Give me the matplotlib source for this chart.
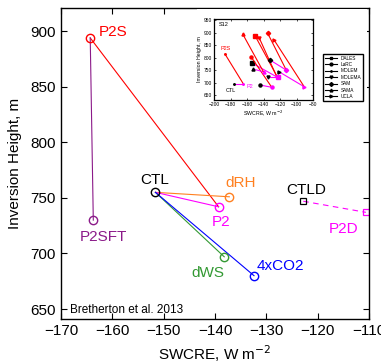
import numpy as np
import matplotlib
matplotlib.use('Agg')
import matplotlib.pyplot as plt
from matplotlib.patches import Rectangle

plt.rcParams['font.family'] = ['Liberation Sans', 'DejaVu Sans']

# SCM experiments (Bretherton et al. 2013)
exp_names = ['CTL', 'P2', 'P2S', 'P2SFT', 'dRH', 'dWS', '4xCO2']
exp_swcre = [-151.6, -139.3, -164.3, -163.7, -137.2, -138.2, -132.4]
exp_zi = [755, 742, 894, 730, 751, 697, 680]
exp_colors = ['black', '#ff00ff', '#ff0000', '#8b1a89', '#ff8020', '#339933', '#0000ff']
label_x = [-151.7, -138.8, -159.8, -161.8, -135.1, -141.3, -127.3]
label_y = [766, 728, 899, 715, 763, 682, 689]

# connecting lines: (start, end, colour taken from experiment)
links = [('P2S', 'P2', 'P2S'), ('P2S', 'P2SFT', 'P2SFT'), ('CTL', 'dRH', 'dRH'),
         ('CTL', 'P2', 'P2'), ('CTL', 'dWS', 'dWS'), ('CTL', '4xCO2', '4xCO2')]

# deeper-inversion pair
d_names = ['CTLD', 'P2D']
d_swcre = [-122.8, -110.6]
d_zi = [747, 737]
d_label_x = [-122.2, -115.0]
d_label_y = [757, 722]

# inset: CGILS S12 LES models
les_models = ['DALES', 'LaRC', 'MOLEM', 'MOLEMA', 'SAM', 'SAMA', 'UCLA']
les_markers = ['s', 'o', '.', 'v', 'D', '^', '>']
les_ctl_x = [-154.2, -144.0, -175.3, -135.1, -131.9, -152.2, -121.0]
les_ctl_y = [779, 690, 694, 723, 790, 754, 743]
les_p2_x = [-123.0, -130.0, -164.3, -123.8, -112.4, -140.0, -90.6]
les_p2_y = [721, 681, 694, 723, 750, 743, 683]
les_p2s_x = [-150.1, -155.0, -186.6, -144.9, -135.1, -165.1, -127.0]
les_p2s_y = [887, 803, 814, 877, 899, 894, 870]

fig = plt.figure(figsize=(3.81, 3.63), dpi=100)
ax = fig.add_axes([0.160, 0.1212, 0.8085, 0.857])

idx = {n: i for i, n in enumerate(exp_names)}
for a, b, c in links:
    ia, ib = idx[a], idx[b]
    ax.plot([exp_swcre[ia], exp_swcre[ib]], [exp_zi[ia], exp_zi[ib]],
            color=exp_colors[idx[c]], lw=0.8, zorder=2)

for i, n in enumerate(exp_names):
    ax.plot(exp_swcre[i], exp_zi[i], 'o', mfc='none', mec=exp_colors[i],
            ms=6, mew=1.0, zorder=3)
    ax.text(label_x[i], label_y[i], n, color=exp_colors[i], fontsize=11,
            ha='center', va='center')

ax.plot(d_swcre, d_zi, '--', color='#ff00ff', lw=0.8, dashes=(5, 4))
ax.plot(d_swcre[0], d_zi[0], 's', mfc='none', mec='black', ms=5, mew=0.9)
ax.plot(d_swcre[1], d_zi[1], 's', mfc='none', mec='#ff00ff', ms=5, mew=0.9)
ax.text(d_label_x[0], d_label_y[0], d_names[0], color='black', fontsize=11,
        ha='center', va='center')
ax.text(d_label_x[1], d_label_y[1], d_names[1], color='#ff00ff', fontsize=11,
        ha='center', va='center')

ax.text(-168.3, 649, 'Bretherton et al. 2013', fontsize=8.5, ha='left', va='center')

ax.set_xlim(-170, -110)
ax.set_ylim(641, 921)
ax.set_xticks(np.arange(-170, -109, 10))
ax.set_yticks(np.arange(650, 901, 50))
ax.set_xticklabels([f'\u2212{abs(v)}' for v in range(-170, -109, 10)])
ax.tick_params(direction='in', top=True, right=True, labelsize=11, length=4, width=0.8)
ax.set_xlabel('SWCRE, W m$^{-2}$', fontsize=11)
ax.set_ylabel('Inversion Height, m', fontsize=11, labelpad=6)
for s in ax.spines.values():
    s.set_linewidth(1.0)

# white patch behind the inset (pasted figure)
fig.patches.append(Rectangle((197 / 381, 1 - 126 / 363), 170 / 381, 117 / 363,
                             transform=fig.transFigure, facecolor='white',
                             edgecolor='none', zorder=1))

ins = fig.add_axes([214 / 381, 1 - 100 / 363, 99 / 381, 81 / 363], zorder=2)
for i, m in enumerate(les_models):
    ins.plot([les_ctl_x[i], les_p2_x[i]], [les_ctl_y[i], les_p2_y[i]],
             color='#ff00ff', lw=0.8)
    ins.plot([les_p2s_x[i], les_p2_x[i]], [les_p2s_y[i], les_p2_y[i]],
             color='#ff0000', lw=0.8)
    ins.plot(les_ctl_x[i], les_ctl_y[i], les_markers[i], color='black', ms=2.2)
    ins.plot(les_p2_x[i], les_p2_y[i], les_markers[i], color='#ff00ff', ms=2.2)
    ins.plot(les_p2s_x[i], les_p2s_y[i], les_markers[i], color='#ff0000', ms=2.2)
    ins.plot([], [], '-', marker=les_markers[i], color='black', ms=2, lw=0.8, label=m)

ins.text(-194, 932, 'S12', fontsize=4, ha='left', va='center')
ins.text(-186, 835, 'P2S', fontsize=4, color='#ff0000', ha='center', va='center')
ins.text(-180, 668, 'CTL', fontsize=4, ha='center', va='center')
ins.text(-156, 684, 'P2', fontsize=4, color='#ff00ff', ha='center', va='center')

ins.set_xlim(-200, -80)
ins.set_ylim(630, 955)
ins.set_xticks(np.arange(-200, -79, 20))
ins.set_yticks(np.arange(650, 951, 50))
ins.set_xticklabels([f'\u2212{abs(v)}' for v in range(-200, -79, 20)])
ins.tick_params(direction='in', top=True, right=True, labelsize=3.5, length=1.5,
                width=0.5, pad=1.5)
ins.set_xlabel('SWCRE, W m$^{-2}$', fontsize=3.8, labelpad=1)
ins.set_ylabel('Inversion Height, m', fontsize=3.8, labelpad=1)
for s in ins.spines.values():
    s.set_linewidth(0.9)
leg = ins.legend(loc='center left', bbox_to_anchor=(1.08, 0.28), fontsize=3.4,
                 frameon=True, fancybox=False, edgecolor='black', borderpad=0.4,
                 handlelength=2.5, labelspacing=0.3, framealpha=1)
leg.get_frame().set_linewidth(1.0)

fig.savefig('out.png', dpi=100)
